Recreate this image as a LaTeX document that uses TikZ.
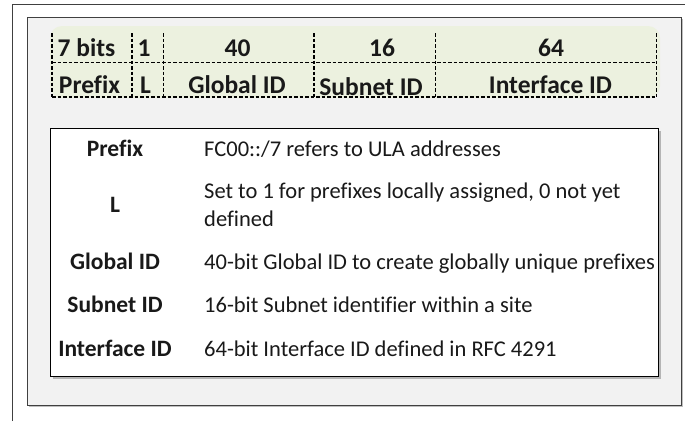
\documentclass[tikz,border=0pt]{standalone}
\usepackage{fontspec}
\setmainfont{Carlito}[Ligatures=NoCommon]
\usetikzlibrary{shadows}
\definecolor{panelgray}{RGB}{242,242,242}
\definecolor{framegray}{RGB}{64,64,64}
\definecolor{bandgreen}{RGB}{236,241,223}
\definecolor{inkc}{RGB}{25,25,25}
\newcommand{\hdrf}{\fontsize{25.5}{30}\selectfont\bfseries}
\newcommand{\lblf}{\fontsize{23.5}{28}\selectfont\bfseries}
\newcommand{\dscf}{\fontsize{22.5}{28}\selectfont}
\tikzset{
  hdr/.style={inner sep=0pt, anchor=base, text=inkc, font=\hdrf},
  lbl/.style={inner sep=0pt, anchor=base, text=inkc, font=\lblf},
  dsc/.style={inner sep=0pt, anchor=base west, text=inkc, font=\dscf, align=left},
  dashline/.style={line width=1.4pt, dash pattern=on 3.5pt off 2pt, draw=black},
  panel/.style={fill=panelgray, draw=framegray, line width=0.9pt,
    drop shadow={shadow xshift=1.5pt, shadow yshift=-1.5pt, fill=black, opacity=0.25}},
  tablebox/.style={fill=white, draw=black, line width=1pt,
    drop shadow={shadow xshift=2pt, shadow yshift=-2pt, fill=black, opacity=0.25}},
}
\begin{document}
\begin{tikzpicture}[x=1pt,y=-1pt]
\useasboundingbox (0,0) rectangle (685,421);
% outer frame
\coordinate (fbl) at (12,421);
\coordinate (ftl) at (12,4.3);
\coordinate (ftr) at (685,4.3);
\draw[framegray, line width=0.9pt] (fbl) -- (ftl) -- (ftr);
% panel
\node[panel, minimum width=654pt, minimum height=388pt, inner sep=0pt, anchor=north west] (panel) at (27,17.3) {};
% green band
\fill[bandgreen, rounded corners=12pt] (50,26) rectangle (660,98);
% dashed grid
\coordinate (t0) at (52,33); \coordinate (b0) at (52,97);
\coordinate (t1) at (132,33); \coordinate (b1) at (132,97);
\coordinate (t2) at (163.5,33); \coordinate (b2) at (163.5,97);
\coordinate (t3) at (314,33); \coordinate (b3) at (314,97);
\coordinate (t4) at (435.5,33); \coordinate (b4) at (435.5,97);
\coordinate (t5) at (656.5,33); \coordinate (b5) at (656.5,97);
\coordinate (ml) at (52,62.5); \coordinate (mr) at (656.5,62.5);
\foreach \i in {0,...,5} { \draw[dashline] (t\i) -- (b\i); }
\draw[dashline] (ml) -- (mr);
\draw[dashline] (b0) -- (b5);
% header text
\node[hdr] (h1) at (86.5,56) {7 bits};
\node[hdr] (h2) at (144,56) {1};
\node[hdr] (h3) at (237.5,56) {40};
\node[hdr] (h4) at (382,56) {16};
\node[hdr] (h5) at (551,56) {64};
\node[hdr] (n1) at (89.5,93) {Prefix};
\node[hdr] (n2) at (145.5,93) {L};
\node[hdr] (n3) at (237,93) {Global ID};
\node[hdr] (n4) at (371,95) {Subnet ID};
\node[hdr] (n5) at (550.5,93) {Interface ID};
% table
\node[tablebox, minimum width=608pt, minimum height=248pt, inner sep=0pt, anchor=north west] (table) at (50,128) {};
\node[lbl] (l1) at (115,156) {Prefix};
\node[lbl] (l2) at (115,212.7) {L};
\node[lbl] (l3) at (115,269.3) {Global ID};
\node[lbl] (l4) at (115,312.7) {Subnet ID};
\node[lbl] (l5) at (115,356) {Interface ID};
\node[dsc] (d1) at (204,156) {FC00::/7 refers to ULA addresses};
\node[dsc] (d2a) at (204,198) {Set to 1 for prefixes locally assigned, 0 not yet};
\node[dsc] (d2b) at (204,226) {defined};
\node[dsc] (d3) at (204,269.3) {40-bit Global ID to create globally unique prefixes};
\node[dsc] (d4) at (204,312.7) {16-bit Subnet identifier within a site};
\node[dsc] (d5) at (204,356) {64-bit Interface ID defined in RFC 4291};
\end{tikzpicture}
\end{document}
